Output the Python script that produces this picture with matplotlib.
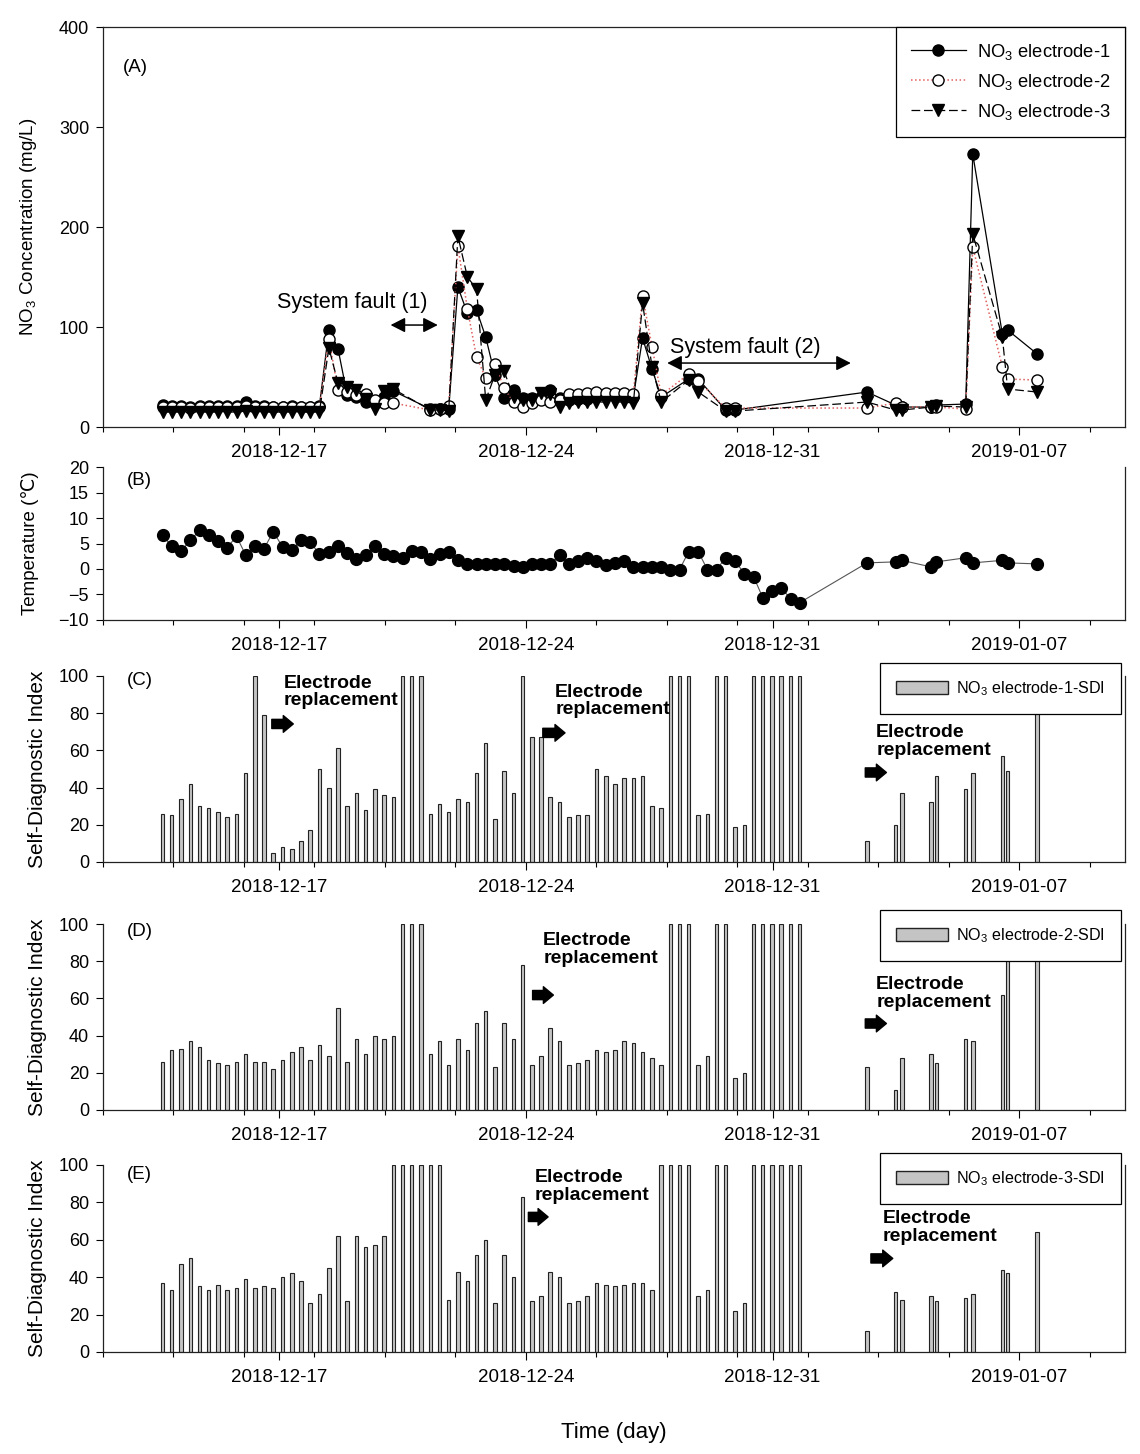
import numpy as np
import pandas as pd
import matplotlib
matplotlib.use('Agg')
import matplotlib.pyplot as plt
import matplotlib.dates as mdates
import matplotlib.ticker as mticker
import matplotlib.transforms as mtransforms
from matplotlib.patches import Patch

plt.rcParams['font.family'] = ['Liberation Sans', 'DejaVu Sans']
plt.rcParams['mathtext.default'] = 'regular'
plt.rcParams['axes.linewidth'] = 0.9

nan = np.nan
start = pd.Timestamp('2018-12-12')

# reading times, days after 2018-12-12 00:00
days_main = [1.69, 1.95, 2.21, 2.48, 2.74, 3.00, 3.26, 3.52, 3.79, 4.05,
             4.31, 4.57, 4.83, 5.10, 5.36, 5.62, 5.88, 6.14, 6.41, 6.67,
             6.93, 7.19, 7.45, 7.72, 7.98, 8.24, 8.50, 8.76, 9.03, 9.29,
             9.55, 9.81, 10.07, 10.34, 10.60, 10.86, 11.12, 11.38, 11.65, 11.91,
             12.17, 12.43, 12.69, 12.96, 13.22, 13.48, 13.74, 14.00, 14.27, 14.53,
             14.79, 15.05, 15.31, 15.58, 15.84, 16.10, 16.36, 16.62, 16.89, 17.15,
             17.41, 17.67, 17.93, 18.20, 18.46, 18.72, 18.98, 19.24, 19.51, 19.77]
days_late = [21.68, 22.49, 22.67, 23.50, 23.65, 24.48, 24.68, 25.52, 25.67, 26.51]

# (A) NO3 concentration, mg/L (nan = no reading)
no3_e1 = [22, 21, 21, 20, 21, 21, 21, 21, 21, 25,
          21, 21, 20, 20, 21, 20, 20, 21, 97, 78,
          32, 30, 25, 24, 30, 36, nan, nan, nan, 18,
          18, 18, 140, 114, 117, 90, 52, 29, 37, 29,
          29, 30, 37, 29, 27, 28, 28, 30, 32, 31,
          31, 30, 89, 58, 30, nan, nan, 48, 48, nan,
          nan, 17, 17, nan, nan, nan, nan, nan, nan, nan,
          35, 22, 20, 20, 22, 23, 273, 93, 97, 73]
no3_e2 = [20, 20, 20, 19, 20, 20, 20, 20, 20, 21,
          20, 20, 20, 20, 20, 20, 20, 20, 88, 37,
          35, 32, 33, 27, 24, 24, nan, nan, nan, 17,
          18, 21, 181, 118, 70, 49, 63, 39, 25, 20,
          24, 27, 25, 27, 33, 33, 34, 35, 34, 34,
          34, 33, 131, 80, 32, nan, nan, 53, 46, nan,
          nan, 19, 19, nan, nan, nan, nan, nan, nan, nan,
          19, 24, 20, 20, 20, 18, 180, 60, 48, 47]
no3_e3 = [15, 15, 15, 15, 15, 15, 15, 15, 15, 16,
          15, 15, 15, 15, 15, 15, 15, 15, 79, 44,
          40, 37, 28, 18, 36, 38, nan, nan, nan, 17,
          17, 16, 191, 150, 138, 27, 52, 56, 30, 27,
          27, 34, 33, 20, 24, 25, 25, 25, 25, 25,
          25, 24, 124, 60, 25, nan, nan, 47, 35, nan,
          nan, 16, 16, nan, nan, nan, nan, nan, nan, nan,
          25, 17, 17, 20, 21, 20, 193, 90, 38, 35]

# (B) temperature, degC
temp = [6.6, 4.5, 3.5, 5.6, 7.6, 6.6, 5.5, 4.2, 6.4, 2.7,
        4.5, 4.0, 7.3, 4.3, 3.7, 5.7, 5.2, 3.0, 3.3, 4.5,
        3.2, 2.0, 2.7, 4.5, 3.0, 2.5, 2.1, 3.5, 3.3, 2.0,
        3.0, 3.3, 1.7, 0.9, 0.9, 1.0, 1.0, 0.9, 0.6, 0.3,
        1.0, 0.9, 1.0, 2.7, 1.0, 1.6, 2.2, 1.6, 0.8, 1.2,
        1.6, 0.4, 0.4, 0.4, 0.4, -0.1, -0.1, 3.4, 3.4, -0.1,
        -0.1, 2.2, 1.6, -0.9, -1.5, -5.6, -4.4, -3.7, -5.8, -6.6,
        1.2, 1.4, 1.7, 0.4, 1.4, 2.2, 1.2, 1.7, 1.2, 1.0]

# (C)-(E) self-diagnostic index
sdi_e1 = [26, 25, 34, 42, 30, 29, 27, 24, 26, 48,
          100, 79, 5, 8, 7, 11, 17, 50, 40, 61,
          30, 37, 28, 39, 36, 35, 100, 100, 100, 26,
          31, 27, 34, 32, 48, 64, 23, 49, 37, 100,
          67, 67, 35, 32, 24, 25, 25, 50, 46, 42,
          45, 45, 46, 30, 29, 100, 100, 100, 25, 26,
          100, 100, 19, 20, 100, 100, 100, 100, 100, 100,
          11, 20, 37, 32, 46, 39, 48, 57, 49, 100]
sdi_e2 = [26, 32, 33, 37, 34, 27, 25, 24, 26, 30,
          26, 26, 22, 27, 31, 34, 27, 35, 29, 55,
          26, 38, 30, 40, 38, 40, 100, 100, 100, 30,
          37, 24, 38, 32, 47, 53, 23, 47, 38, 78,
          24, 29, 44, 37, 24, 25, 27, 32, 31, 32,
          37, 36, 31, 28, 24, 100, 100, 100, 24, 29,
          100, 100, 17, 20, 100, 100, 100, 100, 100, 100,
          23, 11, 28, 30, 25, 38, 37, 62, 100, 100]
sdi_e3 = [37, 33, 47, 50, 35, 33, 36, 33, 34, 39,
          34, 35, 34, 40, 42, 38, 26, 31, 45, 62,
          27, 62, 56, 57, 62, 100, 100, 100, 100, 100,
          100, 28, 43, 38, 52, 60, 26, 52, 40, 83,
          27, 30, 43, 40, 26, 27, 30, 37, 36, 35,
          36, 37, 37, 33, 100, 100, 100, 100, 30, 33,
          100, 100, 22, 26, 100, 100, 100, 100, 100, 100,
          11, 32, 28, 30, 27, 29, 31, 44, 42, 64]

major_dates = ['2018-12-17', '2018-12-24', '2018-12-31', '2019-01-07']


def day(d):
    return mdates.date2num(start + pd.Timedelta(days=d))


t = mdates.date2num((start + pd.to_timedelta(days_main + days_late, unit='D')).to_pydatetime())
minor_pos = mdates.date2num(pd.date_range('2018-12-12', '2019-01-10', freq='2D').to_pydatetime())
major_pos = mdates.date2num(pd.to_datetime(major_dates).to_pydatetime())


def format_time_axis(ax, top=False):
    ax.set_xlim(day(0), day(29))
    ax.xaxis.set_major_locator(mticker.FixedLocator(major_pos))
    ax.xaxis.set_minor_locator(mticker.FixedLocator(minor_pos))
    ax.xaxis.set_major_formatter(mdates.DateFormatter('%Y-%m-%d'))
    ax.tick_params(axis='x', which='major', direction='out', length=5.5, width=0.8,
                   pad=7, labelsize=13.5)
    ax.tick_params(axis='x', which='minor', direction='out', length=3.5, width=0.8)
    ax.tick_params(axis='y', direction='out', length=5, width=0.8, pad=5, labelsize=13)
    ax.spines['top'].set_visible(top)
    for s in ax.spines.values():
        s.set_color('#222222')


fig = plt.figure(figsize=(11.4, 14.54), dpi=100)
left, width = 103 / 1140, 1022 / 1140

# ---- (A) concentration
axA = fig.add_axes([left, 0.7063, width, 0.2751])
styles = [
    (no3_e1, dict(ls='-', color='black', lw=0.9, marker='o', ms=8, mfc='black', mec='black'),
     'NO$_3$ electrode-1'),
    (no3_e2, dict(ls=':', color='#e06060', lw=1.1, marker='o', ms=8, mfc='white', mec='black'),
     'NO$_3$ electrode-2'),
    (no3_e3, dict(ls=(0, (7, 3)), color='black', lw=0.9, marker='v', ms=8, mfc='black', mec='black'),
     'NO$_3$ electrode-3'),
]
for vals, st, lab in styles:
    v = np.array(vals, dtype=float)
    m = ~np.isnan(v)
    axA.plot(t[m], v[m], label=lab, **st)
axA.set_ylim(0, 400)
axA.set_yticks([0, 100, 200, 300, 400])
format_time_axis(axA, top=True)
axA.set_ylabel('NO$_3$ Concentration (mg/L)', fontsize=13.5)
axA.yaxis.set_label_coords(-0.0626, 0.5)
axA.text(0.032, 0.9, '(A)', transform=axA.transAxes, fontsize=13.5, ha='center', va='center')
legA = axA.legend(loc='upper right', bbox_to_anchor=(1, 1), borderaxespad=0, fancybox=False,
                  edgecolor='black', framealpha=1, fontsize=13.2, handlelength=3.0,
                  handletextpad=0.6, labelspacing=0.55, borderpad=0.8)
legA.get_frame().set_linewidth(0.9)

axA.text(day(7.08), 125, 'System fault (1)', ha='center', va='center', fontsize=15.5)
axA.annotate('', xy=(day(9.50), 102), xytext=(day(8.16), 102),
             arrowprops=dict(arrowstyle='<|-|>,head_length=0.55,head_width=0.28', color='black',
                             lw=1.1, shrinkA=0, shrinkB=0, mutation_scale=16))
axA.text(day(18.23), 80, 'System fault (2)', ha='center', va='center', fontsize=15.5)
axA.annotate('', xy=(day(21.22), 64), xytext=(day(16.01), 64),
             arrowprops=dict(arrowstyle='<|-|>,head_length=0.55,head_width=0.28', color='black',
                             lw=1.1, shrinkA=0, shrinkB=0, mutation_scale=16))

# ---- (B) temperature
axB = fig.add_axes([left, 0.5736, width, 0.1052])
axB.plot(t, temp, '-', color='#555555', lw=0.8, marker='o', ms=8.5, mfc='black', mec='black')
axB.set_ylim(-10, 20)
axB.set_yticks(range(-10, 25, 5))
format_time_axis(axB)
axB.set_ylabel('Temperature (℃)', fontsize=13.5)
axB.yaxis.set_label_coords(-0.0626, 0.5)
axB.text(0.036, 0.915, '(B)', transform=axB.transAxes, fontsize=13.5, ha='center', va='center')

# ---- (C)-(E) self-diagnostic index
sdi_panels = [
    (sdi_e1, 0.4072, 0.1279, '(C)', 0.978, 'NO$_3$ electrode-1-SDI', 1.070,
     [(5.12, 0.914, 4.79, 5.40, 0.742), (12.83, 0.866, 12.48, 13.11, 0.694),
      (21.94, 0.648, 21.63, 22.23, 0.481)]),
    (sdi_e2, 0.2366, 0.1279, '(D)', 0.959, 'NO$_3$ electrode-2-SDI', 1.075,
     [(12.49, 0.863, 12.19, 12.78, 0.618), (21.94, 0.626, 21.63, 22.23, 0.465)]),
    (sdi_e3, 0.0702, 0.1286, '(E)', 0.947, 'NO$_3$ electrode-3-SDI', 1.064,
     [(12.26, 0.885, 12.07, 12.63, 0.722), (22.13, 0.666, 21.79, 22.41, 0.500)]),
]
for vals, bottom, height, tag, tag_y, lab, leg_top, notes in sdi_panels:
    ax = fig.add_axes([left, bottom, width, height])
    ax.bar(t, vals, width=0.1, color='#c4c4c4', edgecolor='#222222', linewidth=0.8, label=lab)
    ax.set_ylim(0, 100)
    ax.set_yticks(range(0, 101, 20))
    format_time_axis(ax)
    ax.set_ylabel('Self-Diagnostic Index', fontsize=15)
    ax.yaxis.set_label_coords(-0.0548, 0.5)
    ax.text(0.036, tag_y, tag, transform=ax.transAxes, fontsize=13.5, ha='center', va='center')
    trans = mtransforms.blended_transform_factory(ax.transData, ax.transAxes)
    for tx, ty, a0, a1, ay in notes:
        ax.text(day(tx), ty, 'Electrode\nreplacement', transform=trans, ha='left', va='center',
                fontsize=14, fontweight='bold', linespacing=1.05)
        ax.annotate('', xy=(day(a1), ay), xytext=(day(a0), ay), xycoords=trans, textcoords=trans,
                    arrowprops=dict(arrowstyle='simple,head_length=0.6,head_width=1.0,tail_width=0.55',
                                    fc='black', ec='black', shrinkA=0, shrinkB=0, mutation_scale=12))
    leg = ax.legend(handles=[Patch(facecolor='#c4c4c4', edgecolor='#222222', label=lab)],
                    loc='upper right', bbox_to_anchor=(0.996, leg_top), borderaxespad=0,
                    fancybox=False, edgecolor='black', framealpha=1, fontsize=11.6,
                    handlelength=3.2, handleheight=0.8, handletextpad=0.5, borderpad=1.0)
    leg.get_frame().set_linewidth(0.9)

fig.text(0.538, 0.0151, 'Time (day)', ha='center', va='center', fontsize=16)

fig.savefig('out.png', dpi=100)
